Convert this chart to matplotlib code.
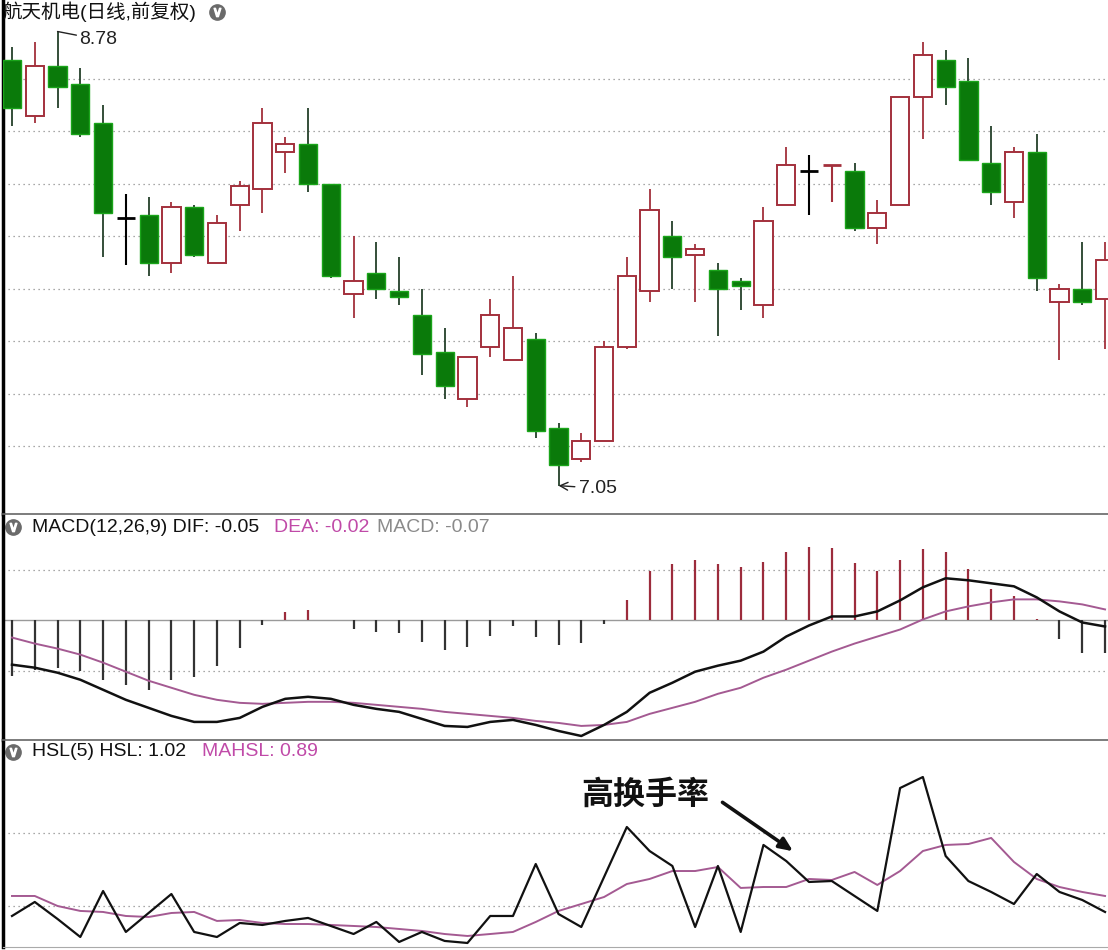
import matplotlib.pyplot as plt
import numpy as np

plt.rcParams['font.family'] = ['Liberation Sans', 'Noto Sans CJK SC', 'DejaVu Sans']

# daily candles (前复权)
opens = [8.67, 8.46, 8.65, 8.58, 8.43, 8.07, 8.08, 7.90, 8.11, 7.90,
         8.12, 8.18, 8.32, 8.35, 8.20, 7.78, 7.86, 7.79, 7.70, 7.56,
         7.38, 7.58, 7.53, 7.61, 7.27, 7.15, 7.22, 7.58, 7.79, 8.00,
         7.93, 7.87, 7.83, 7.74, 8.12, 8.25, 8.27, 8.25, 8.03, 8.12,
         8.53, 8.67, 8.59, 8.28, 8.13, 8.32, 7.75, 7.80, 7.76]
closes = [8.49, 8.65, 8.57, 8.39, 8.09, 8.07, 7.90, 8.11, 7.93, 8.05,
          8.19, 8.43, 8.35, 8.20, 7.85, 7.83, 7.80, 7.77, 7.55, 7.43,
          7.54, 7.70, 7.65, 7.26, 7.13, 7.22, 7.58, 7.85, 8.10, 7.92,
          7.95, 7.80, 7.81, 8.06, 8.27, 8.25, 8.27, 8.03, 8.09, 8.53,
          8.69, 8.57, 8.29, 8.17, 8.32, 7.84, 7.80, 7.75, 7.91]
highs = [8.72, 8.74, 8.78, 8.64, 8.50, 8.16, 8.15, 8.13, 8.12, 8.08,
         8.21, 8.49, 8.38, 8.49, 8.20, 8.00, 7.98, 7.92, 7.80, 7.65,
         7.54, 7.76, 7.85, 7.63, 7.29, 7.25, 7.60, 7.92, 8.18, 8.06,
         7.97, 7.90, 7.84, 8.11, 8.34, 8.31, 8.27, 8.28, 8.14, 8.53,
         8.74, 8.71, 8.68, 8.42, 8.34, 8.39, 7.82, 7.98, 7.98]
lows = [8.42, 8.43, 8.49, 8.38, 7.92, 7.89, 7.85, 7.86, 7.92, 7.90,
        8.02, 8.09, 8.24, 8.17, 7.84, 7.69, 7.76, 7.74, 7.47, 7.38,
        7.35, 7.54, 7.53, 7.23, 7.05, 7.14, 7.22, 7.57, 7.75, 7.80,
        7.75, 7.62, 7.72, 7.69, 8.12, 8.08, 8.13, 8.02, 7.97, 8.12,
        8.37, 8.50, 8.29, 8.12, 8.07, 7.79, 7.53, 7.74, 7.57]

# MACD(12,26,9)
dif = [-0.088, -0.094, -0.104, -0.118, -0.138, -0.158, -0.174, -0.190, -0.202, -0.202,
       -0.194, -0.172, -0.156, -0.152, -0.156, -0.168, -0.176, -0.182, -0.196, -0.210,
       -0.212, -0.202, -0.198, -0.208, -0.220, -0.230, -0.208, -0.182, -0.144, -0.124,
       -0.102, -0.090, -0.080, -0.062, -0.032, -0.010, 0.008, 0.008, 0.018, 0.040,
       0.066, 0.084, 0.080, 0.074, 0.068, 0.046, 0.018, -0.004, -0.012]
dea = [-0.034, -0.046, -0.056, -0.068, -0.084, -0.102, -0.120, -0.134, -0.148, -0.158,
       -0.164, -0.166, -0.164, -0.162, -0.162, -0.164, -0.168, -0.172, -0.176, -0.182,
       -0.186, -0.190, -0.194, -0.200, -0.204, -0.210, -0.208, -0.202, -0.186, -0.174,
       -0.162, -0.146, -0.134, -0.114, -0.098, -0.080, -0.062, -0.046, -0.032, -0.018,
       0.002, 0.018, 0.028, 0.036, 0.042, 0.042, 0.038, 0.032, 0.022]
macd = [-0.110, -0.098, -0.094, -0.100, -0.118, -0.128, -0.138, -0.118, -0.112, -0.090,
        -0.054, -0.010, 0.016, 0.020, 0.001, -0.016, -0.022, -0.024, -0.042, -0.058,
        -0.052, -0.030, -0.012, -0.032, -0.048, -0.044, -0.008, 0.040, 0.098, 0.112,
        0.120, 0.112, 0.106, 0.116, 0.136, 0.146, 0.144, 0.114, 0.098, 0.120,
        0.142, 0.136, 0.102, 0.062, 0.048, 0.002, -0.036, -0.064, -0.064]

# HSL(5) turnover
hsl = [0.863, 1.055, 0.822, 0.575, 1.205, 0.644, 0.904, 1.164, 0.644, 0.575,
       0.767, 0.740, 0.795, 0.836, 0.726, 0.616, 0.781, 0.507, 0.644, 0.521,
       0.493, 0.863, 0.863, 1.575, 0.890, 0.712, 1.397, 2.082, 1.753, 1.548,
       0.712, 1.548, 0.644, 1.836, 1.616, 1.329, 1.342, 1.137, 0.932, 2.616,
       2.767, 1.685, 1.342, 1.192, 1.027, 1.438, 1.192, 1.082, 0.918]
mahsl = [1.137, 1.137, 1.000, 0.932, 0.918, 0.863, 0.849, 0.904, 0.918, 0.795,
         0.808, 0.767, 0.753, 0.753, 0.740, 0.726, 0.712, 0.685, 0.658, 0.616,
         0.589, 0.616, 0.644, 0.781, 0.932, 1.027, 1.123, 1.301, 1.370, 1.479,
         1.479, 1.534, 1.247, 1.260, 1.260, 1.370, 1.356, 1.466, 1.288, 1.479,
         1.753, 1.836, 1.849, 1.932, 1.603, 1.370, 1.260, 1.192, 1.137]

# header readouts as shown by the software
title = '航天机电(日线,前复权)'
macd_readout = ['MACD(12,26,9) DIF: -0.05', 'DEA: -0.02', 'MACD: -0.07']
hsl_readout = ['HSL(5) HSL: 1.02', 'MAHSL: 0.89']
note = '高换手率'

RED = '#a3303c'
GREEN = '#0a7a0a'
GREEN_EDGE = '#1aa51a'
PURPLE = '#a45a92'
MAGENTA = '#c04aa8'
GRID = dict(linestyle=(0, (1, 3)), color='#8c8c8c', linewidth=0.9)

W, H = 1108, 950
fig = plt.figure(figsize=(W / 100, H / 100), dpi=100)


def panel(top, bottom):
    ax = fig.add_axes([3 / W, 1 - bottom / H, 1105 / W, (bottom - top) / H])
    ax.set_xlim(-0.395, 48.13)
    ax.tick_params(left=False, bottom=False, labelleft=False, labelbottom=False)
    for s in ['top', 'right', 'bottom']:
        ax.spines[s].set_visible(False)
    ax.spines['left'].set_color('black')
    ax.spines['left'].set_linewidth(2.5)
    return ax


def badge(ax, xf, y):
    ax.plot([xf], [y], marker='o', ms=11, color='#6a6a6a', transform=ax.transAxes, clip_on=False)
    ax.plot([xf], [y], marker=r'$\vee$', ms=6, color='white', transform=ax.transAxes, clip_on=False)


# ---------------- price panel ----------------
ax1 = panel(0, 514)
ax1.set_ylim(6.942, 8.9)
ax1.set_yticks(np.arange(7.2, 8.61, 0.2))
ax1.grid(axis='y', **GRID)

x = np.arange(len(opens))
o = np.array(opens)
c = np.array(closes)
up = c > o
down = c < o
flat = c == o
prev = np.r_[c[0], c[:-1]]
width = 0.8

ax1.vlines(x[up], np.array(lows)[up], np.array(highs)[up], color=RED, lw=1.3, zorder=2)
ax1.bar(x[up], (c - o)[up], bottom=o[up], width=width, facecolor='white',
        edgecolor=RED, linewidth=1.4, zorder=3)
ax1.vlines(x[down], np.array(lows)[down], np.array(highs)[down], color='#24402a', lw=1.3, zorder=2)
ax1.bar(x[down], (c - o)[down], bottom=o[down], width=width, facecolor=GREEN,
        edgecolor=GREEN_EDGE, linewidth=1.0, zorder=3)
for i in x[flat]:
    col = RED if c[i] > prev[i] else 'black'
    ax1.vlines(i, lows[i], highs[i], color=col, lw=1.5, zorder=2)
    ax1.hlines(o[i], i - width / 2, i + width / 2, color=col, lw=2, zorder=3)

hi_i = int(np.argmax(highs))
lo_i = int(np.argmin(lows))
ax1.annotate(f'{highs[hi_i]:.2f}', xy=(hi_i, highs[hi_i]), xytext=(hi_i + 0.95, highs[hi_i] - 0.03),
             fontsize=14, va='center', color='#222',
             arrowprops=dict(arrowstyle='-', color='#222', lw=1, shrinkA=0, shrinkB=0))
ax1.annotate(f'{lows[lo_i]:.2f}', xy=(lo_i, lows[lo_i]), xytext=(lo_i + 0.9, lows[lo_i] - 0.01),
             fontsize=14, va='center', color='#222',
             arrowprops=dict(arrowstyle='->', color='#222', lw=1, shrinkA=1, shrinkB=0))

ax1.text(-0.001, 1 - 12 / 514, title, transform=ax1.transAxes,
         fontsize=14, va='center', ha='left', color='#111')
badge(ax1, 214 / 1105, 1 - 12 / 514)

# ---------------- MACD panel ----------------
ax2 = panel(514, 740)
ax2.spines['top'].set_visible(True)
ax2.spines['top'].set_color('#666')
ax2.spines['top'].set_linewidth(1.2)
ax2.set_ylim(-0.238, 0.212)
ax2.set_yticks([-0.1, 0.1])
ax2.grid(axis='y', **GRID)
ax2.axhline(0, color='#9a9a9a', lw=1, zorder=1)
hist = np.array(macd)
ax2.vlines(x, 0, hist, colors=np.where(hist >= 0, '#9c2c3c', '#333333'), lw=1.6, zorder=2)
ax2.plot(x, dea, color=PURPLE, lw=1.4, zorder=3)
ax2.plot(x, dif, color='#111111', lw=1.8, zorder=4)

ty = 1 - 13 / 226
badge(ax2, 0.0095, ty)
for txt, xp, col in zip(macd_readout, [29, 271, 374], ['#111', MAGENTA, '#8a8a8a']):
    ax2.text(xp / 1105, ty, txt, transform=ax2.transAxes, fontsize=14, va='center', color=col)

# ---------------- HSL panel ----------------
ax3 = panel(740, 947)
ax3.spines['top'].set_visible(True)
ax3.spines['top'].set_color('#666')
ax3.spines['top'].set_linewidth(1.2)
ax3.spines['bottom'].set_visible(True)
ax3.spines['bottom'].set_color('#aaaaaa')
ax3.set_ylim(0.438, 3.274)
ax3.set_yticks([1.0, 2.0])
ax3.grid(axis='y', **GRID)
ax3.plot(x, mahsl, color=PURPLE, lw=1.4, zorder=3)
ax3.plot(x, hsl, color='#111111', lw=1.6, zorder=4)

ty = 1 - 12 / 207
badge(ax3, 0.0095, ty)
for txt, xp, col in zip(hsl_readout, [29, 199], ['#111', MAGENTA]):
    ax3.text(xp / 1105, ty, txt, transform=ax3.transAxes, fontsize=14, va='center', color=col)

ax3.text(27.8, 2.52, note, fontsize=23, fontweight='bold', ha='center', va='center',
         family=['Noto Sans CJK SC'], color='#111')
ax3.annotate('', xy=(34.3, 1.75), xytext=(31.2, 2.42),
             arrowprops=dict(arrowstyle='-|>,head_length=0.8,head_width=0.35', color='#111',
                             lw=2.6, shrinkA=0, shrinkB=0))

fig.savefig('out.png', dpi=100, facecolor='white')
